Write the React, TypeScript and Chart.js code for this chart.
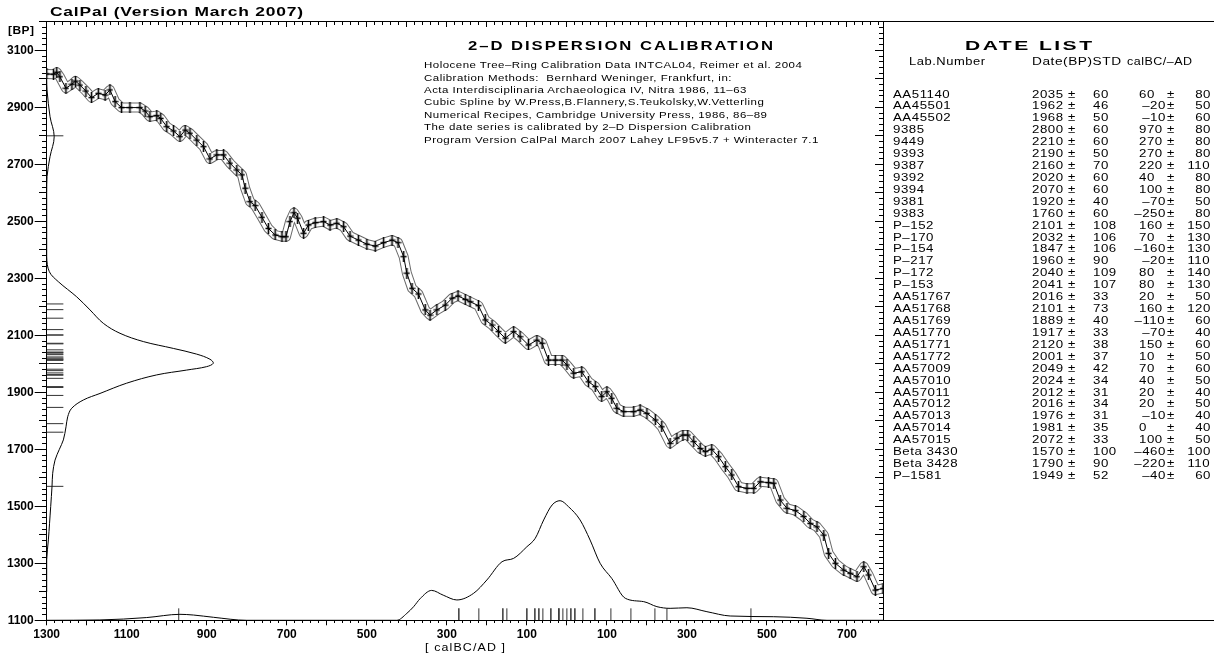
import React, { useEffect, useRef } from 'react';
import { Chart, registerables } from 'chart.js';

Chart.register(...registerables);

const W = 1214;
const H = 655;

// ---- Calibration curve (INTCAL04): cal year (AD +, BC -) and BP ----
const CURVE_YEAR = [
  -1300, -1283, -1275, -1267, -1252, -1237, -1228, -1217, -1202, -1188, -1171, -1154, -1142, -1129,
  -1113, -1092, -1067, -1054, -1042, -1025, -1015, -1000, -983, -967, -954, -942, -925, -908, -892,
  -875, -858, -842, -825, -812, -804, -792, -779, -762, -746, -729, -712, -702, -692, -682, -673,
  -658, -646, -629, -608, -592, -575, -558, -542, -521, -500, -479, -458, -437, -422, -408, -400,
  -387, -371, -354, -342, -325, -304, -287, -272, -254, -242, -221, -204, -187, -171, -154, -133,
  -117, -96, -75, -62, -46, -29, -12, 0, 17, 37, 54, 71, 87, 100, 112, 125, 142, 167, 183, 200,
  221, 237, 258, 275, 290, 302, 317, 333, 346, 362, 379, 396, 412, 429, 450, 467, 483, 504, 517,
  533, 550, 571, 592, 608, 625, 642, 654, 671, 692, 708, 725, 742, 754, 771, 790,
];
const CURVE_BP = [
  3017, 3016, 3023, 3007, 2967, 2981, 2992, 2978, 2957, 2934, 2949, 2943, 2961, 2920,
  2899, 2899, 2899, 2887, 2867, 2871, 2861, 2832, 2817, 2797, 2820, 2809, 2785, 2762, 2719,
  2733, 2733, 2704, 2680, 2663, 2616, 2569, 2555, 2514, 2475, 2452, 2446, 2446, 2499, 2530, 2511,
  2458, 2487, 2495, 2499, 2487, 2493, 2481, 2448, 2434, 2420, 2413, 2425, 2434, 2425, 2376, 2318,
  2265, 2245, 2189, 2171, 2189, 2206, 2230, 2238, 2226, 2218, 2204, 2154, 2136, 2113, 2090, 2113,
  2095, 2066, 2083, 2072, 2013, 2013, 2013, 1996, 1967, 1972, 1937, 1920, 1885, 1902, 1879, 1844, 1832, 1832, 1838, 1826,
  1803, 1779, 1721, 1739, 1750, 1750, 1727, 1703, 1692, 1700, 1674, 1639, 1610, 1569, 1563, 1563, 1586, 1583, 1581,
  1522, 1493, 1485, 1464, 1440, 1428, 1399, 1335, 1300, 1276, 1265, 1253, 1288, 1259, 1206, 1212,
];

// ---- Summed BP probability (left side), relative to its peak ----
const BPDIST_BP = [
  3000, 2961, 2867, 2797, 2727, 2657, 2600, 2376, 2323, 2288, 2235, 2189, 2142, 2107, 2078, 2054,
  2034, 2016, 2002, 1990, 1978, 1961, 1932, 1896, 1873, 1844, 1814, 1779, 1733, 1700, 1662, 1616,
  1570, 1499, 1382, 1312, 1200,
];
const BPDIST_P = [
  0, 0.002, 0.02, 0.045, 0.02, 0.002, 0, 0, 0.016, 0.07, 0.18, 0.26, 0.34, 0.44, 0.58, 0.76,
  0.9, 0.98, 1.0, 0.96, 0.84, 0.66, 0.48, 0.32, 0.22, 0.15, 0.126, 0.116, 0.1, 0.076, 0.05, 0.036,
  0.032, 0.024, 0.01, 0, 0,
];

// ---- Summed calendar probability (bottom), relative to its peak ----
const CALDIST_YEAR = [
  -1300, -1167, -1050, -967, -933, -883, -800, -425, -400, -383, -367, -338, -309, -275, -233, -200,
  -162, -133, -100, -79, -58, -37, -17, 4, 33, 58, 83, 112, 146, 192, 225, 258, 300, 350, 408, 517,
  600, 650, 790,
];
const CALDIST_P = [
  0, 0.003, 0.023, 0.05, 0.044, 0.025, 0, 0, 0.058, 0.114, 0.18, 0.25, 0.21, 0.17, 0.226, 0.337,
  0.49, 0.518, 0.615, 0.686, 0.839, 0.964, 1.0, 0.95, 0.839, 0.671, 0.477, 0.351, 0.184, 0.156, 0.114, 0.1, 0.105, 0.072, 0.036, 0.03,
  0.017, 0, 0,
];

// ---- Date list ----
const LAB_IDS = [
  'AA51140', 'AA45501', 'AA45502', '9385', '9449', '9393', '9387', '9392', '9394', '9381', '9383',
  'P–152', 'P–170', 'P–154', 'P–217', 'P–172', 'P–153', 'AA51767', 'AA51768', 'AA51769', 'AA51770',
  'AA51771', 'AA51772', 'AA57009', 'AA57010', 'AA57011', 'AA57012', 'AA57013', 'AA57014', 'AA57015',
  'Beta 3430', 'Beta 3428', 'P–1581',
];
const DATE_BP = [
  2035, 1962, 1968, 2800, 2210, 2190, 2160, 2020, 2070, 1920, 1760, 2101, 2032, 1847, 1960, 2040, 2041,
  2016, 2101, 1889, 1917, 2120, 2001, 2049, 2024, 2012, 2016, 1976, 1981, 2072, 1570, 1790, 1949,
];
const DATE_STD = [
  60, 46, 50, 60, 60, 50, 70, 60, 60, 40, 60, 108, 106, 106, 90, 109, 107,
  33, 73, 40, 33, 38, 37, 42, 34, 31, 34, 31, 35, 33, 100, 90, 52,
];
const CAL_BCAD = [
  60, -20, -10, 970, 270, 270, 220, 40, 100, -70, -250, 160, 70, -160, -20, 80, 80,
  20, 160, -110, -70, 150, 10, 70, 40, 20, 20, -10, 0, 100, -460, -220, -40,
];
const CAL_STD = [
  80, 50, 60, 80, 80, 80, 110, 80, 80, 50, 80, 150, 130, 130, 110, 140, 130,
  50, 120, 60, 40, 60, 50, 60, 50, 40, 50, 40, 40, 50, 100, 110, 60,
];

// ---- Axis tick labels ----
const X_LABEL_TICKS = [-1300, -1100, -900, -700, -500, -300, -100, 100, 300, 500, 700];
const Y_LABEL_TICKS = [1100, 1300, 1500, 1700, 1900, 2100, 2300, 2500, 2700, 2900, 3100];

const HEADER_LINES = [
  'Holocene Tree–Ring Calibration Data INTCAL04, Reimer et al. 2004',
  'Calibration Methods:  Bernhard Weninger, Frankfurt, in:',
  'Acta Interdisciplinaria Archaeologica IV, Nitra 1986, 11–63',
  'Cubic Spline by W.Press,B.Flannery,S.Teukolsky,W.Vetterling',
  'Numerical Recipes, Cambridge University Press, 1986, 86–89',
  'The date series is calibrated by 2–D Dispersion Calibration',
  'Program Version CalPal March 2007 Lahey LF95v5.7 + Winteracter 7.1',
];

// ---- layout ----
const X_MIN = -1300;
const X_MAX = 790;
const Y_MIN = 1100;
const Y_MAX = 3200;
const AREA_LEFT = 46.7;
const AREA_RIGHT = 883;
const AREA_TOP = 21.8;
const AREA_BOTTOM = 620.3;
const P_PEAK_X_PX = 166.6;
const P_PEAK_Y_PX = 119.6;
const DATE_MARK = 0.1;

const FONT_FAMILY = '"Liberation Sans", Arial, Helvetica, sans-serif';

function steps(a: number, b: number, step: number): number[] {
  const r: number[] = [];
  for (let v = a; v <= b + 1e-9; v += step) r.push(v);
  return r;
}

let measureCtx: CanvasRenderingContext2D | null = null;
function textWidth(text: string, size: number, bold: boolean): number {
  if (!measureCtx) measureCtx = document.createElement('canvas').getContext('2d');
  measureCtx!.font = `${bold ? 'bold ' : ''}${size}px ${FONT_FAMILY}`;
  return measureCtx!.measureText(text).width;
}
function fitScale(text: string, size: number, bold: boolean, ls: number, width: number): number {
  const nat = textWidth(text, size, bold) + ls * Math.max(0, text.length - 1);
  return width / nat;
}

type LabelProps = {
  x: number; y: number; text: string; size: number; bold?: boolean;
  width?: number; sx?: number; ls?: number; align?: 'left' | 'right';
};
function Label({ x, y, text, size, bold = false, width, sx, ls = 0.4, align = 'left' }: LabelProps) {
  const scale = width !== undefined ? fitScale(text, size, bold, ls, width) : (sx ?? 1);
  const style: React.CSSProperties = {
    position: 'absolute',
    top: y - size / 2,
    fontFamily: FONT_FAMILY,
    fontSize: size,
    fontWeight: bold ? 'bold' : 'normal',
    letterSpacing: `${ls}px`,
    lineHeight: `${size}px`,
    whiteSpace: 'pre',
    color: '#000',
    transform: `scaleX(${scale})`,
    transformOrigin: align === 'right' ? 'right center' : 'left center',
  };
  if (align === 'right') style.right = W - x - ls * scale;
  else style.left = x;
  return <div style={style}>{text}</div>;
}

function tickAxis(axis: 'x' | 'y', position: any, values: number[], len: number, border: boolean) {
  return {
    type: 'linear',
    axis,
    position,
    min: axis === 'x' ? X_MIN : Y_MIN,
    max: axis === 'x' ? X_MAX : Y_MAX,
    afterBuildTicks: (s: any) => { s.ticks = values.map((v) => ({ value: v })); },
    ticks: { display: false },
    grid: { drawOnChartArea: false, drawTicks: true, tickLength: len, color: '#000', tickColor: '#000', lineWidth: 1 },
    border: { display: border, color: '#000', width: 1 },
  };
}

function ChartCanvas() {
  const ref = useRef<HTMLCanvasElement | null>(null);
  useEffect(() => {
    if (!ref.current) return;
    const cross = document.createElement('canvas');
    cross.width = 7;
    cross.height = 11;
    const cctx = cross.getContext('2d')!;
    cctx.strokeStyle = '#000';
    cctx.lineWidth = 1.6;
    cctx.beginPath();
    cctx.moveTo(3.5, 0);
    cctx.lineTo(3.5, 11);
    cctx.moveTo(0.5, 5.5);
    cctx.lineTo(6.5, 5.5);
    cctx.stroke();

    const curvePts = CURVE_YEAR.map((x, i) => ({ x, y: CURVE_BP[i] }));
    const bpDist = BPDIST_BP.map((y, i) => ({ x: BPDIST_P[i], y }));
    const calDist = CALDIST_YEAR.map((x, i) => ({ x, y: CALDIST_P[i] }));
    const bpMarks: any[] = [];
    DATE_BP.forEach((bp) => { bpMarks.push({ x: 0, y: bp }, { x: DATE_MARK, y: bp }, { x: 0, y: null }); });
    const calMarks: any[] = [];
    CAL_BCAD.forEach((c) => { calMarks.push({ x: -c, y: 0 }, { x: -c, y: DATE_MARK }, { x: -c, y: null }); });

    const xMajor = steps(X_MIN, 700, 100);
    const xMinor = steps(X_MIN, X_MAX, 20);
    const yMajor = steps(Y_MIN, Y_MAX, 100);
    const yMinor = steps(Y_MIN, Y_MAX, 20);
    const axisFont = { family: FONT_FAMILY, size: 12, weight: 'bold' as const };

    const areaW = AREA_RIGHT - AREA_LEFT;
    const areaH = AREA_BOTTOM - AREA_TOP;

    const framePlugin = {
      id: 'frameExtend',
      afterDraw(chart: any) {
        const { ctx, chartArea: a } = chart;
        const al = (p: number) => Math.round(p - 0.5) + 0.5;
        ctx.save();
        ctx.strokeStyle = '#000';
        ctx.lineWidth = 1;
        ctx.beginPath();
        ctx.moveTo(a.right, al(a.top));
        ctx.lineTo(W, al(a.top));
        ctx.moveTo(a.right, al(a.bottom));
        ctx.lineTo(W, al(a.bottom));
        ctx.stroke();
        ctx.restore();
      },
    };

    const chart = new Chart(ref.current, {
      type: 'line',
      data: {
        datasets: [
          { data: curvePts, xAxisID: 'x', yAxisID: 'y', borderColor: '#000', borderWidth: 1, pointStyle: cross as any, pointRadius: 3, pointHoverRadius: 3, tension: 0, order: 1 },
          { data: curvePts, xAxisID: 'x', yAxisID: 'y', borderColor: '#fff', borderWidth: 8, borderJoinStyle: 'round', pointRadius: 0, tension: 0, order: 2 },
          { data: curvePts, xAxisID: 'x', yAxisID: 'y', borderColor: '#6a6a6a', borderWidth: 10, borderJoinStyle: 'round', pointRadius: 0, tension: 0, order: 3 },
          { data: bpDist, xAxisID: 'xp', yAxisID: 'y', borderColor: '#000', borderWidth: 1, pointRadius: 0, tension: 0.35, order: 0 },
          { data: calDist, xAxisID: 'x', yAxisID: 'yp', borderColor: '#000', borderWidth: 1, pointRadius: 0, cubicInterpolationMode: 'monotone', order: 0 },
          { data: bpMarks, xAxisID: 'xp', yAxisID: 'y', borderColor: '#333', borderWidth: 1, pointRadius: 0, spanGaps: false, order: 0 },
          { data: calMarks, xAxisID: 'x', yAxisID: 'yp', borderColor: '#333', borderWidth: 1, pointRadius: 0, spanGaps: false, order: 0 },
        ] as any,
      },
      options: {
        responsive: false,
        animation: false,
        devicePixelRatio: 1,
        events: [],
        layout: { padding: { left: 0, right: W - AREA_RIGHT, top: AREA_TOP, bottom: 0 } },
        plugins: { legend: { display: false }, tooltip: { enabled: false } },
        scales: {
          x: {
            type: 'linear',
            position: 'bottom',
            min: X_MIN,
            max: X_MAX,
            afterFit: (s: any) => { s.height = H - AREA_BOTTOM; },
            afterBuildTicks: (s: any) => { s.ticks = xMajor.map((v) => ({ value: v })); },
            ticks: {
              autoSkip: false,
              maxRotation: 0,
              padding: 2,
              color: '#000',
              font: axisFont,
              callback: (v: any) => (X_LABEL_TICKS.includes(Number(v)) ? String(Math.abs(Number(v))) : ''),
            },
            grid: { drawOnChartArea: false, tickLength: 5, color: '#000', tickColor: '#000' },
            border: { display: true, color: '#000', width: 1 },
          },
          xMinorB: tickAxis('x', { y: Y_MIN }, xMinor, 3, false),
          xMajorT: tickAxis('x', { y: Y_MAX }, xMajor, 5, true),
          xMinorT: tickAxis('x', { y: Y_MAX }, xMinor, 3, false),
          y: {
            type: 'linear',
            position: 'left',
            min: Y_MIN,
            max: Y_MAX,
            afterFit: (s: any) => { s.width = AREA_LEFT; },
            afterBuildTicks: (s: any) => { s.ticks = Y_LABEL_TICKS.map((v) => ({ value: v })); },
            ticks: { autoSkip: false, padding: 1, color: '#000', font: axisFont, callback: (v: any) => String(v) },
            grid: { drawOnChartArea: false, tickLength: 12, color: '#000', tickColor: '#000' },
            border: { display: true, color: '#000', width: 1 },
          },
          yMajorL: tickAxis('y', { x: X_MIN }, yMajor, 8, false),
          yMinorL: tickAxis('y', { x: X_MIN }, yMinor, 5, false),
          yMajorR: tickAxis('y', { x: X_MAX }, yMajor, 8, true),
          yMinorR: tickAxis('y', { x: X_MAX }, yMinor, 4, false),
          xp: { type: 'linear', axis: 'x', display: false, min: 0, max: areaW / P_PEAK_X_PX },
          yp: { type: 'linear', axis: 'y', display: false, min: 0, max: areaH / P_PEAK_Y_PX },
        } as any,
      },
      plugins: [framePlugin],
    });
    return () => chart.destroy();
  }, []);
  return <canvas ref={ref} width={W} height={H} style={{ position: 'absolute', left: 0, top: 0, display: 'block' }} />;
}

export default function App() {
  const ROW_SIZE = 10;
  const HEAD_SIZE = 9.5;
  const headerSx = fitScale(HEADER_LINES[0], HEAD_SIZE, false, 0.4, 378);
  const rowSx = fitScale('AA51140', ROW_SIZE, false, 0.4, 56.7);
  const ROW0 = 94.5;
  const ROW_STEP = 11.92;
  return (
    <div style={{ position: 'absolute', left: 0, top: 0, width: W, height: H, background: '#fff', overflow: 'hidden' }}>
      <ChartCanvas />
      <Label x={50} y={11} text="CalPal (Version March 2007)" size={13} bold ls={0.6} width={253} />
      <Label x={8.3} y={30.5} text="[BP]" size={10} bold width={26} />
      <Label x={425} y={647} text="[ calBC/AD ]" size={11} ls={1} width={80} />
      <Label x={468} y={45.7} text="2–D DISPERSION CALIBRATION" size={12} bold ls={1.4} width={305} />
      {HEADER_LINES.map((t, i) => (
        <Label key={'h' + i} x={424} y={65 + i * 12.4} text={t} size={HEAD_SIZE} sx={headerSx} />
      ))}
      <Label x={965} y={45.7} text="DATE LIST" size={12} bold ls={1.4} width={127} />
      <Label x={909} y={62} text="Lab.Number" size={ROW_SIZE} width={76} />
      <Label x={1032} y={62} text="Date(BP)STD" size={ROW_SIZE} width={89} />
      <Label x={1127} y={62} text="calBC/–AD" size={ROW_SIZE} width={65} />
      {LAB_IDS.map((id, i) => {
        const y = ROW0 + i * ROW_STEP;
        const c = CAL_BCAD[i];
        const cText = c < 0 ? '–' + Math.abs(c) : String(c);
        return (
          <React.Fragment key={'r' + i}>
            <Label x={893.3} y={y} text={id} size={ROW_SIZE} sx={rowSx} />
            <Label x={1032.3} y={y} text={String(DATE_BP[i])} size={ROW_SIZE} sx={rowSx} />
            <Label x={1068} y={y} text="±" size={ROW_SIZE} sx={rowSx} />
            <Label x={1093} y={y} text={String(DATE_STD[i])} size={ROW_SIZE} sx={rowSx} />
            {c >= 0 ? (
              <Label x={1139} y={y} text={cText} size={ROW_SIZE} sx={rowSx} />
            ) : (
              <Label x={1165} y={y} text={cText} size={ROW_SIZE} sx={rowSx} align="right" />
            )}
            <Label x={1167} y={y} text="±" size={ROW_SIZE} sx={rowSx} />
            <Label x={1210} y={y} text={String(CAL_STD[i])} size={ROW_SIZE} sx={rowSx} align="right" />
          </React.Fragment>
        );
      })}
    </div>
  );
}
